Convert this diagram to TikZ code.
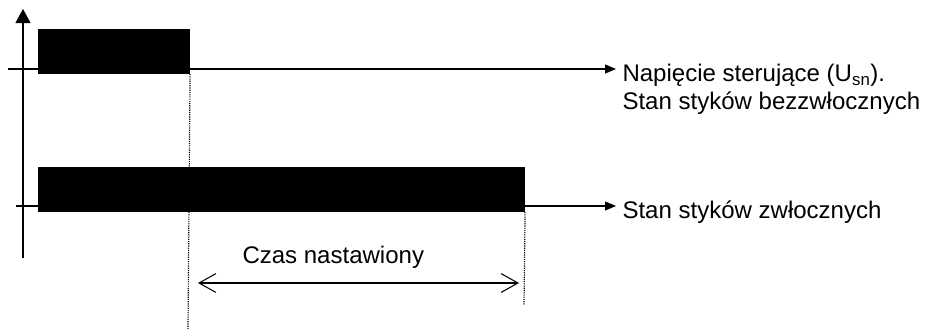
\documentclass[tikz,border=0pt]{standalone}
\usepackage{fontspec}
\setmainfont{Liberation Sans}
\usetikzlibrary{arrows.meta}

\begin{document}
\begin{tikzpicture}[
    x=0.03cm, y=-0.03cm, line width=0.9pt,
    >={Triangle[length=0.33cm, width=0.27cm]},
    signal/.style={fill=black, inner sep=0pt, minimum height=1.35cm, anchor=north west},
    txt/.style={inner sep=0pt, anchor=base west, align=left,
        font=\fontsize{20.5}{23.5}\selectfont},
    guide/.style={line width=1pt, dash pattern=on 1pt off 0.9pt}
]
    \useasboundingbox (0,0) rectangle (934,329);

    \coordinate (origin) at (23,258);
    \coordinate (axis top) at (23,9);
    \coordinate (top start) at (8,69);
    \coordinate (top end) at (616,69);
    \coordinate (low start) at (16,206);
    \coordinate (low end) at (616,206);
    \coordinate (on guide) at (188,329);
    \coordinate (off guide) at (524,305);
    \coordinate (t0) at (198,283);
    \coordinate (t1) at (519,283);

    \draw[-{Triangle[length=0.42cm, width=0.45cm]}] (origin) -- (axis top);
    \draw[->] (top start) -- (top end);
    \draw[->] (low start) -- (low end);

    \node[signal, minimum width=4.56cm] (pulse) at (37,28) {};
    \node[signal, minimum width=14.61cm] (delayed) at (37,166) {};

    \draw[guide] (pulse.south east) -- (on guide);
    \draw[guide] (delayed.south east) -- (off guide);

    \draw[{Straight Barb[length=0.5cm, width=0.56cm]}-{Straight Barb[length=0.5cm, width=0.56cm]}]
        (t0) -- (t1);

    \node[txt] (usn) at (622,109)
        {Napięcie sterujące (U\textsubscript{sn}).\\Stan styków bezzwłocznych};
    \node[txt] (contacts) at (622,218) {Stan styków zwłocznych};
    \node[txt] (settime) at (242,263) {Czas nastawiony};
\end{tikzpicture}
\end{document}
